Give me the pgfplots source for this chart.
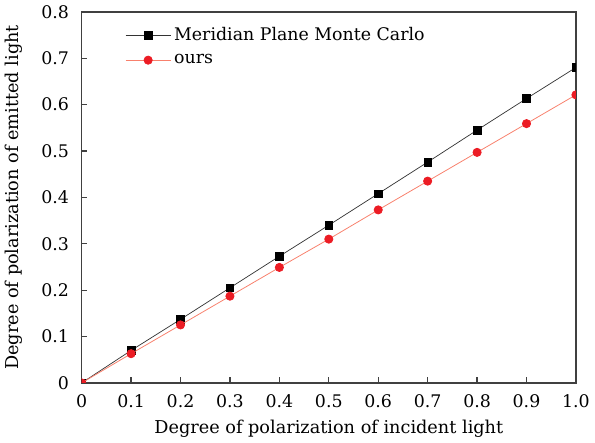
\documentclass[border=0pt]{standalone}
\usepackage{fontspec}
\setmainfont{DejaVu Serif}
\usepackage{pgfplots}
\pgfplotsset{compat=1.18}
\definecolor{lred}{RGB}{248,128,108}
\definecolor{mred}{RGB}{236,28,36}
\begin{document}
\begin{tikzpicture}
\begin{axis}[
  scale only axis,
  width=313pt, height=235pt,
  xmin=0, xmax=1.0, ymin=0, ymax=0.8,
  xtick={0,0.1,0.2,0.3,0.4,0.5,0.6,0.7,0.8,0.9,1.0},
  xticklabels={0,0.1,0.2,0.3,0.4,0.5,0.6,0.7,0.8,0.9,1.0},
  ytick={0,0.1,0.2,0.3,0.4,0.5,0.6,0.7,0.8},
  yticklabels={0,0.1,0.2,0.3,0.4,0.5,0.6,0.7,0.8},
  /pgf/number format/assume math mode=true,
  tick pos=left, tick align=inside,
  major tick length=3.5pt,
  axis line style={line width=1pt, black!75},
  tick style={line width=0.8pt, black!75},
  tick label style={font=\fontsize{11}{13}\selectfont},
  xticklabel style={yshift=-4pt},
  yticklabel style={xshift=-4.5pt},
  xlabel={Degree of polarization of incident light},
  ylabel={Degree of polarization of emitted light},
  label style={font=\fontsize{11.2}{13}\selectfont},
  xlabel style={yshift=-1pt},
  ylabel style={yshift=5pt},
  clip marker paths=true,
  legend style={draw=none, fill=none, at={(0.078,0.975)}, anchor=north west, font=\fontsize{11}{13}\selectfont, row sep=3pt},
  legend cell align=left,
  legend image code/.code={\draw[mark repeat=2,mark phase=2] plot coordinates {(0cm,0cm) (0.5cm,0cm) (1cm,0cm)};},
]
\addplot[black!80, line width=0.45pt, mark=square*, mark size=2.4pt, mark options={solid, fill=black, draw=black}] coordinates {
(0,0) (0.1,0.070) (0.2,0.137) (0.3,0.205) (0.4,0.273) (0.5,0.340) (0.6,0.408) (0.7,0.476) (0.8,0.545) (0.9,0.613) (1.0,0.680)};
\addlegendentry{Meridian Plane Monte Carlo}
\addplot[lred, line width=0.5pt, mark=*, mark size=2.6pt, mark options={fill=mred, draw=mred}] coordinates {
(0,0) (0.1,0.063) (0.2,0.125) (0.3,0.187) (0.4,0.249) (0.5,0.310) (0.6,0.373) (0.7,0.435) (0.8,0.497) (0.9,0.559) (1.0,0.621)};
\addlegendentry{ours}
\end{axis}
\end{tikzpicture}
\end{document}
